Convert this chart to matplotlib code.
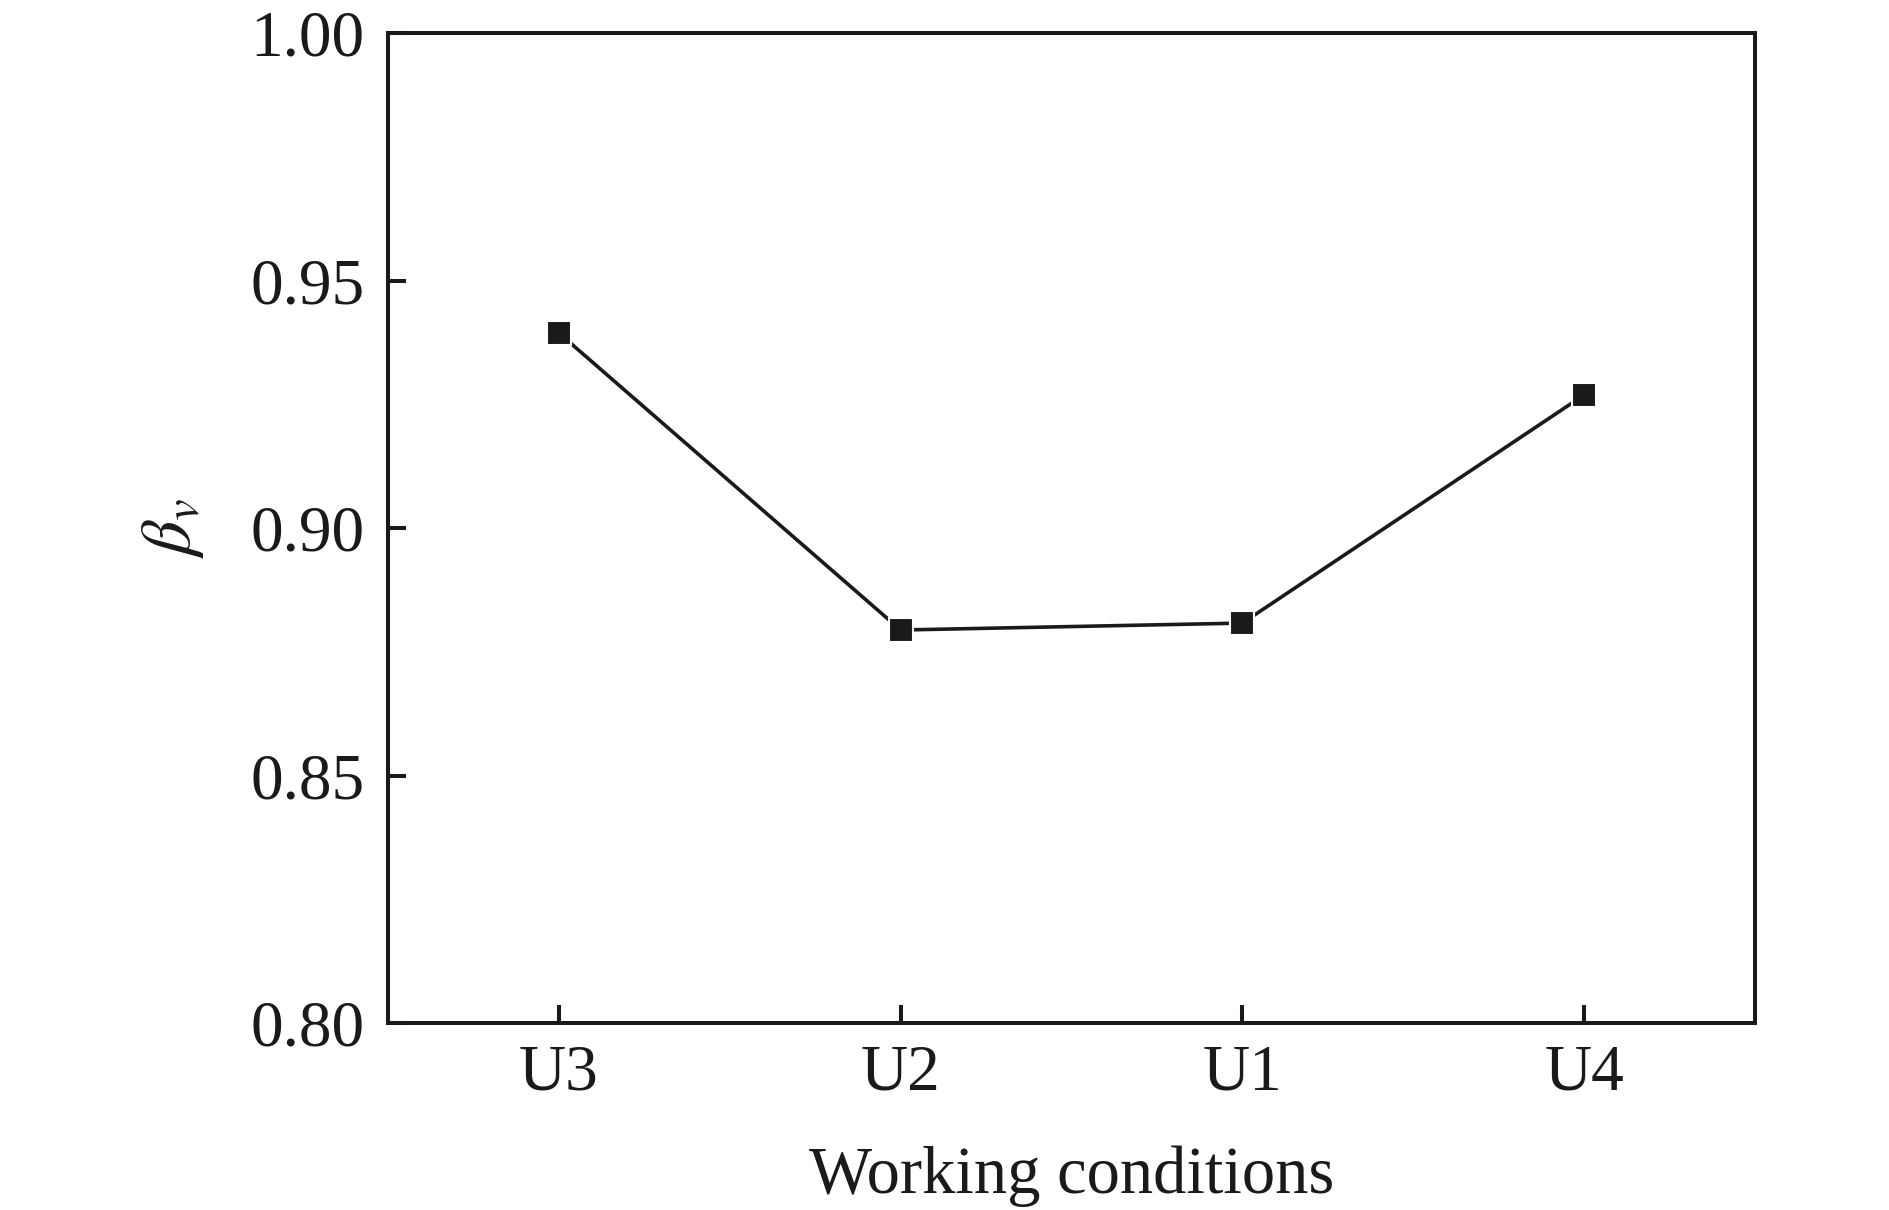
import matplotlib
matplotlib.use("Agg")
import matplotlib.pyplot as plt

# ── Data ──────────────────────────────────────────────────────────────────────
conditions = ["U3", "U2", "U1", "U4"]
beta_v = [0.9394, 0.8794, 0.8808, 0.9269]
y_ticks = [0.80, 0.85, 0.90, 0.95, 1.00]

plt.rcParams["font.family"] = ["Liberation Serif", "DejaVu Serif"]
plt.rcParams["mathtext.fontset"] = "stix"

ink = "#1a1a1a"

fig = plt.figure(figsize=(18.9, 12.1), dpi=100)
ax = fig.add_axes([0.2053, 0.1545, 0.7233, 0.8182])

x = list(range(len(conditions)))
ax.plot(x, beta_v, color=ink, linewidth=2.6, marker="s", markersize=17,
        markerfacecolor=ink, markeredgecolor="white", markeredgewidth=1.5)

ax.set_xlim(-0.5, len(conditions) - 0.5)
ax.set_ylim(0.80, 1.00)
ax.set_xticks(x)
ax.set_xticklabels(conditions)
ax.set_yticks(y_ticks)
ax.set_yticklabels([f"{v:.2f}" for v in y_ticks])

for s in ax.spines.values():
    s.set_linewidth(2.9)
    s.set_color(ink)

ax.tick_params(direction="in", length=13, width=2.9, colors=ink,
               labelsize=47, labelcolor=ink)
ax.tick_params(axis="x", pad=15)
ax.tick_params(axis="y", pad=17)

ax.set_xlabel("Working conditions", fontsize=48, color=ink, labelpad=30)
ax.set_ylabel(r"$\beta_v$", fontsize=50, color=ink, labelpad=32)

fig.savefig("out.png", dpi=100)
